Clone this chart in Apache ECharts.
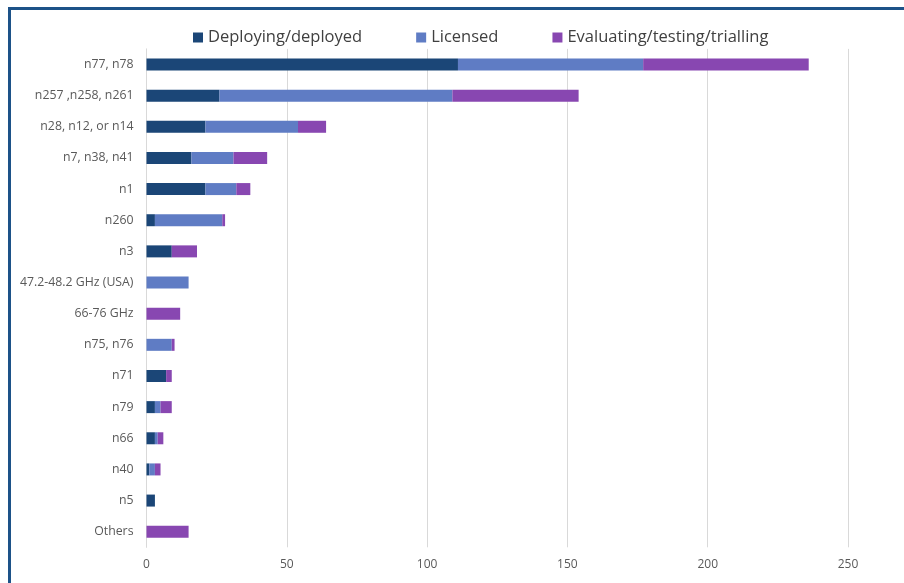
<!DOCTYPE html>
<html>
<head>
<meta charset="utf-8">
<script src="https://cdn.jsdelivr.net/npm/echarts@6/dist/echarts.min.js"></script>
<style>
html,body{margin:0;padding:0;background:#fff;}
#chart{width:904px;height:583px;}
</style>
</head>
<body>
<div id="chart"></div>
<script>
const categories = ["n77, n78","n257 ,n258, n261","n28, n12, or n14","n7, n38, n41","n1","n260","n3","47.2-48.2 GHz (USA)","66-76 GHz","n75, n76","n71","n79","n66","n40","n5","Others"];
const deployed   = [111, 26, 21, 16, 21, 3, 9, 0, 0, 0, 7, 3, 3, 1, 3, 0];
const licensed   = [66, 83, 33, 15, 11, 24, 0, 15, 0, 9, 0, 2, 1, 2, 0, 0];
const evaluating = [59, 45, 10, 12, 5, 1, 9, 0, 12, 1, 2, 4, 2, 2, 0, 15];
const seriesNames = ["Deploying/deployed","Licensed","Evaluating/testing/trialling"];
const xTicks = [0, 50, 100, 150, 200, 250];

const colors = ["#1B4677", "#5F7CC4", "#8847B1"];
const chart = echarts.init(document.getElementById('chart'));
const font = "Open Sans";
chart.setOption({
  animation: false,
  color: colors,
  legend: {
    top: 24, left: 188,
    itemWidth: 10, itemHeight: 10, itemGap: 54, icon: 'rect',
    textStyle: {fontFamily: font, fontSize: 16.5, color: '#404040'},
    data: seriesNames
  },
  grid: {left: 146.5, right: 56, top: 48.9, bottom: 35.7, containLabel: false},
  xAxis: {
    type: 'value', min: xTicks[0], max: xTicks[xTicks.length-1], interval: 50,
    axisLine: {show: false}, axisTick: {show: false},
    splitLine: {lineStyle: {color: '#D9D9D9', width: 1}},
    axisLabel: {fontFamily: font, fontSize: 12, color: '#595959', margin: 11}
  },
  yAxis: {
    type: 'category', data: categories, inverse: true,
    axisLine: {show: true, lineStyle: {color: '#D9D9D9'}}, axisTick: {show: false},
    axisLabel: {fontFamily: font, fontSize: 12.3, color: '#595959', margin: 13}
  },
  series: [deployed, licensed, evaluating].map((d, i) => ({
    name: seriesNames[i], type: 'bar', stack: 'total', data: d, barWidth: 12
  })),
  graphic: [
    {type: 'line', shape: {x1: 8, y1: 8.5, x2: 904, y2: 8.5}, style: {stroke: '#1D5288', lineWidth: 3}},
    {type: 'line', shape: {x1: 9.5, y1: 7, x2: 9.5, y2: 583}, style: {stroke: '#1D5288', lineWidth: 3}}
  ]
});
</script>
</body>
</html>
